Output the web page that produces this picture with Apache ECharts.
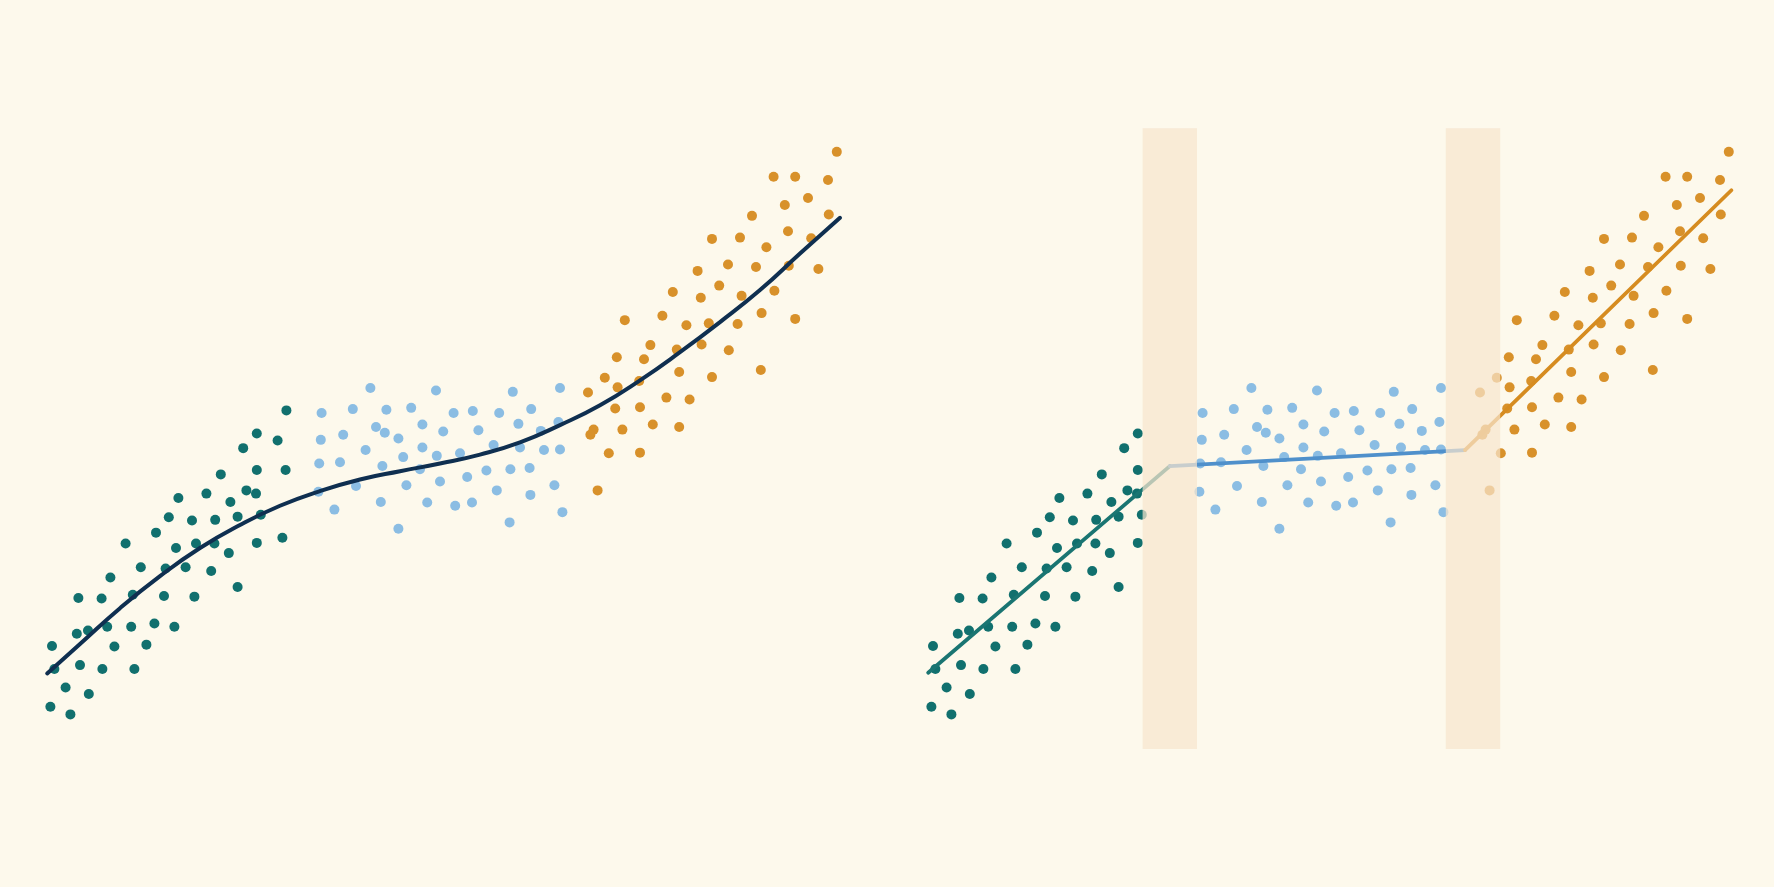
<!DOCTYPE html>
<html>
<head>
<meta charset="utf-8">
<style>
html,body{margin:0;padding:0;background:#fdf9ec;}
#c{width:1774px;height:887px;}
</style>
<script src="https://cdn.jsdelivr.net/npm/echarts@6/dist/echarts.min.js"></script>
</head>
<body>
<div id="c"></div>
<script>
// ---- data ----
const tealPoints = [
 [30.8,51.5],[27.1,47.9],[29.7,46.8],[25.4,45.6],[27.1,42.2],[30.7,42.2],[22.6,41.5],[17.3,37.8],
 [20.8,38.5],[25.8,39.0],[27.0,38.5],[23.8,37.2],[16.1,34.8],[19.0,34.3],[21.9,34.4],[24.7,34.9],
 [27.6,35.2],[14.5,32.4],[10.7,30.7],[17.0,30.0],[19.5,30.7],[21.8,30.7],[23.6,29.2],[27.1,30.8],
 [30.3,31.6],[12.6,27.0],[15.7,26.8],[18.2,27.0],[21.4,26.4],[8.8,25.4],[24.7,23.9],[4.8,22.2],
 [7.7,22.1],[11.6,22.7],[15.5,22.5],[19.3,22.4],[4.6,16.6],[6.0,17.1],[8.4,17.7],[11.4,17.7],
 [14.3,18.2],[16.8,17.7],[1.5,14.7],[9.3,14.6],[13.3,14.9],[5.0,11.7],[1.8,11.1],[7.8,11.1],
 [11.8,11.1],[3.2,8.2],[6.1,7.2],[1.3,5.2],[3.8,4.0]
];
const bluePoints = [
 [41.3,55.0],[49.5,54.6],[59.1,54.4],[65.0,55.0],[35.2,51.1],[39.1,51.7],[43.3,51.6],[46.4,51.9],
 [51.7,51.1],[54.1,51.4],[57.4,51.1],[61.4,51.7],[42.0,48.9],[43.1,48.0],[47.8,49.3],[50.4,48.2],
 [54.8,48.4],[59.8,49.4],[64.8,49.7],[35.1,46.9],[37.9,47.7],[44.8,47.1],[40.7,45.3],[47.8,45.7],
 [52.5,44.8],[56.7,46.1],[60.0,45.7],[62.6,48.3],[63.0,45.3],[65.0,45.4],[34.9,43.2],[37.5,43.4],
 [42.8,42.8],[45.4,44.2],[47.5,42.3],[49.6,44.4],[55.8,42.1],[58.8,42.3],[61.2,42.5],[39.5,39.7],
 [45.8,39.8],[50.0,40.4],[53.4,41.1],[57.1,39.0],[61.3,38.3],[64.3,39.8],[34.8,38.8],[36.8,36.0],
 [42.6,37.2],[48.4,37.1],[51.9,36.6],[54.0,37.1],[44.8,33.0],[58.7,34.0],[65.3,35.6]
];
const orangePoints = [
 [99.6,91.9],[91.7,88.0],[94.4,88.0],[98.5,87.5],[96.0,84.7],[93.1,83.6],[89.0,81.9],[98.6,82.1],
 [84.0,78.3],[87.5,78.5],[90.8,77.0],[93.5,79.5],[96.4,78.4],[82.2,73.3],[86.0,74.3],[89.5,73.9],
 [93.6,74.1],[97.3,73.6],[79.1,70.0],[82.6,69.1],[84.9,71.0],[87.7,69.4],[91.8,70.2],[73.1,65.6],
 [77.8,66.3],[80.8,64.8],[83.6,65.1],[87.2,65.0],[90.2,66.7],[94.4,65.8],[76.3,61.7],[79.6,61.0],
 [82.7,61.8],[86.1,60.9],[72.1,59.8],[75.5,59.5],[79.9,57.5],[84.0,56.7],[90.1,57.8],[70.6,56.6],
 [72.2,55.1],[74.9,56.1],[68.5,54.3],[78.3,53.5],[81.2,53.2],[71.9,51.8],[75.0,52.0],[69.2,48.5],
 [68.8,47.7],[72.8,48.5],[76.6,49.3],[79.9,48.9],[71.1,44.8],[75.0,44.9],[69.7,39.0]
];
// smooth global fit (left panel), read at regular x steps
const globalFit = [
 [0.9,10.4],[5,15.0],[10,20.6],[15,25.6],[20,30.0],[25,33.6],[30,36.6],[35,38.9],[40,40.7],
 [45,42.0],[50,43.2],[55,44.6],[60,46.5],[65,49.2],[70,52.3],[75,56.2],[80,60.6],[85,65.3],
 [90,70.3],[95,76.0],[100,81.6]
];
// piecewise fits (right panel)
const tealFit = [[0.9,10.5],[31.1,42.8]];
const blueFit = [[31.1,42.8],[68.0,45.3]];
const orangeFit = [[68.0,45.3],[101.3,85.9]];
// transition bands: [xStart, xEnd, yBottom, yTop]
const bands = [[27.7,34.5,-1.4,95.6],[65.6,72.4,-1.4,95.6]];

// right panel shows only the low-regime points left of the first band
const tealRight = tealPoints.filter(p => p[0] < bands[0][0]);

// ---- styles ----
const C_TEAL = '#11706e', C_BLUE = '#8bbde3', C_ORANGE = '#d8912a', C_NAVY = '#0f2f50';
const L_TEAL = '#1a7572', L_BLUE = '#4f90cb', L_ORANGE = '#d68c20';
const PT = 10;

const chart = echarts.init(document.getElementById('c'));
const gridBase = {top:100, bottom:115, width:816};
const ax = (i) => ({type:'value', gridIndex:i, min:0, max:102, show:false});
const ay = (i) => ({type:'value', gridIndex:i, min:-5, max:100, show:false});
function sc(data, color, xi, yi){
  return {type:'scatter', data, xAxisIndex:xi, yAxisIndex:yi, symbolSize:PT, z:2,
    itemStyle:{color, opacity:1}, emphasis:{disabled:true}, silent:true};
}
function ln(data, color, width, xi, yi, smooth){
  return {type:'line', data, xAxisIndex:xi, yAxisIndex:yi, smooth:smooth||false, showSymbol:false, z:3,
    lineStyle:{color, width, cap:'round', join:'round'}, silent:true};
}
chart.setOption({
  backgroundColor:'#fdf9ec',
  animation:false,
  grid:[
    Object.assign({left:40}, gridBase),
    Object.assign({left:921}, gridBase),
    Object.assign({left:932}, gridBase)
  ],
  xAxis:[ax(0),ax(1),ax(2)],
  yAxis:[ay(0),ay(1),ay(2)],
  series:[
    sc(tealPoints, C_TEAL, 0, 0),
    sc(bluePoints, C_BLUE, 0, 0),
    sc(orangePoints, C_ORANGE, 0, 0),
    ln(globalFit, C_NAVY, 4, 0, 0, 0.5),
    sc(tealRight, C_TEAL, 1, 1),
    sc(bluePoints, C_BLUE, 1, 1),
    sc(orangePoints, C_ORANGE, 2, 2),
    ln(tealFit, L_TEAL, 3.8, 1, 1),
    ln(blueFit, L_BLUE, 3.8, 1, 1),
    ln(orangeFit, L_ORANGE, 3.8, 1, 1),
    {
      type:'custom', xAxisIndex:1, yAxisIndex:1, z:10, silent:true, clip:false,
      data: bands,
      encode:{x:[0,1], y:[2,3]},
      renderItem:function(params, api){
        const p0 = api.coord([api.value(0), api.value(3)]);
        const p1 = api.coord([api.value(1), api.value(2)]);
        return {type:'rect', shape:{x:p0[0], y:p0[1], width:p1[0]-p0[0], height:p1[1]-p0[1]},
          style:{fill:'rgba(247,228,205,0.72)'}};
      }
    }
  ]
});
</script>
</body>
</html>
